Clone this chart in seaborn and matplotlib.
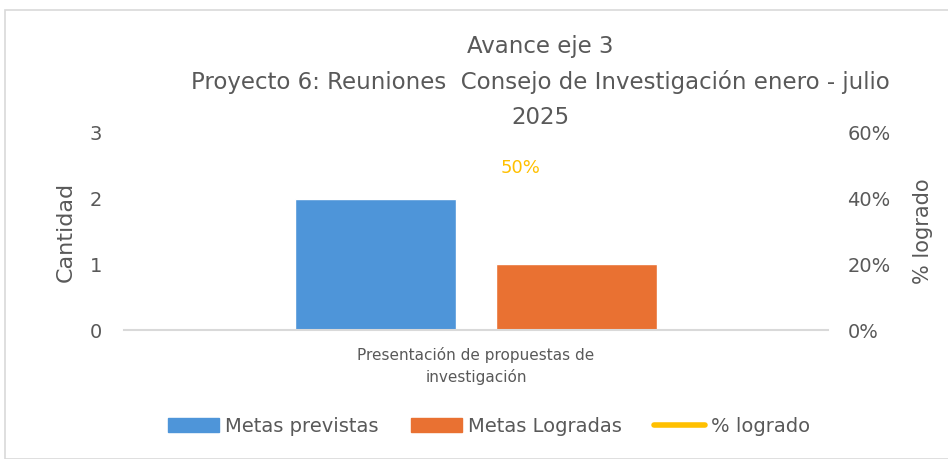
import pandas as pd
import matplotlib.pyplot as plt
import matplotlib.patches as mpatches
import matplotlib.lines as mlines
import seaborn as sns

# --- data ---
categories = ['Presentación de propuestas de\ninvestigación']
metas_previstas = [2]
metas_logradas = [1]
pct_logrado = [0.5]
series_names = ['Metas previstas', 'Metas Logradas', '% logrado']
title_lines = ['Avance eje 3',
               'Proyecto 6: Reuniones  Consejo de Investigación enero - julio',
               '2025']

BLUE = '#4E95D9'
ORANGE = '#E97132'
YELLOW = '#FFC000'
TEXT = '#595959'

df = pd.DataFrame({
    'categoria': categories * 2,
    'serie': [series_names[0]] * len(categories) + [series_names[1]] * len(categories),
    'valor': metas_previstas + metas_logradas,
})

sns.set_style('white')
plt.rcParams['font.family'] = ['DejaVu Sans']

fig = plt.figure(figsize=(9.48, 4.59), dpi=100)
ax = fig.add_axes([124 / 948, 1 - 330 / 459, 704 / 948, 197 / 459])

sns.barplot(data=df, x='categoria', y='valor', hue='serie',
            palette=[BLUE, ORANGE], width=0.57, gap=0.2, ax=ax, saturation=1)
ax.get_legend().remove()
ax.set_xlim(-0.5, 0.5)
ax.set_ylim(0, 3)
ax.set_yticks([0, 1, 2, 3])
ax.set_ylabel('Cantidad', fontsize=16, color=TEXT, labelpad=10)
ax.set_xlabel('')
ax.tick_params(axis='y', labelsize=14, colors=TEXT, length=0, pad=16)
ax.tick_params(axis='x', labelsize=11, colors=TEXT, length=0, pad=12)
for lbl in ax.get_xticklabels():
    lbl.set_linespacing(1.5)
for s in ['top', 'right', 'left']:
    ax.spines[s].set_visible(False)
ax.spines['bottom'].set_color('#D9D9D9')
ax.spines['bottom'].set_linewidth(1.5)

# second axis for the percentage
ax2 = ax.twinx()
ax2.plot([0], pct_logrado, color=YELLOW, linewidth=3)
ax2.set_ylim(0, 0.6)
ax2.set_yticks([0, 0.2, 0.4, 0.6])
ax2.set_yticklabels(['0%', '20%', '40%', '60%'])
ax2.tick_params(axis='y', labelsize=14, colors=TEXT, length=0, pad=14)
ax2.set_ylabel('% logrado', fontsize=15, color=TEXT, labelpad=16)
for s in ax2.spines.values():
    s.set_visible(False)
for x, p in zip(range(len(categories)), pct_logrado):
    ax2.text(x + 0.063, p - 0.007, f'{p:.0%}', color=YELLOW, fontsize=13,
             ha='center', va='center')

# title, one text per line
for y_px, line in zip([46, 82, 118], title_lines):
    fig.text(540 / 948, 1 - y_px / 459, line,
             ha='center', va='center', fontsize=16.5, color=TEXT)

# legend
handles = [mpatches.Patch(color=BLUE, label=series_names[0]),
           mpatches.Patch(color=ORANGE, label=series_names[1]),
           mlines.Line2D([], [], color=YELLOW, linewidth=4, label=series_names[2])]
leg = fig.legend(handles=handles, loc='center', bbox_to_anchor=(489 / 948, 1 - 426 / 459),
                 ncol=3, frameon=False, fontsize=14, handlelength=2.65, handleheight=0.75,
                 handletextpad=0.3, columnspacing=1.65)
for t in leg.get_texts():
    t.set_color(TEXT)

# chart border
fig.patches.append(mpatches.Rectangle((5 / 948, 0), 1, 1 - 10 / 459, transform=fig.transFigure,
                                      fill=False, edgecolor='#D9D9D9', linewidth=1.2))

plt.savefig('out.png', dpi=100)
